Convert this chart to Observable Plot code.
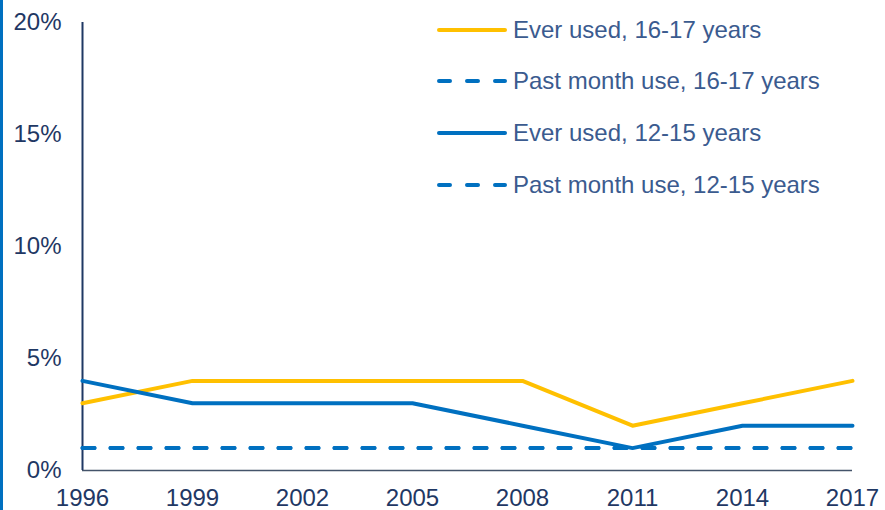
<!DOCTYPE html>
<html>
<head>
<meta charset="utf-8">
<script src="https://cdn.jsdelivr.net/npm/d3@7"></script>
<script src="https://cdn.jsdelivr.net/npm/@observablehq/plot@0.6"></script>
<style>
  html, body { margin: 0; padding: 0; background: #fff; }
  #wrap { position: relative; width: 885px; height: 510px; overflow: hidden; font-family: "Liberation Sans", Arial, sans-serif; }
  #bar { position: absolute; left: 0; top: 0; width: 3px; height: 510px; background: #0070C0; }
  #legend { position: absolute; left: 437px; top: 0; }
  .item { position: absolute; left: 0; height: 30px; display: flex; align-items: center; white-space: nowrap; }
  .item span { margin-left: 6px; font-size: 24px; color: #3B5B8F; }
</style>
</head>
<body>
<div id="wrap"><div id="bar"></div><div id="chart"></div><div id="legend"></div></div>
<script>
const years = [1996, 1999, 2002, 2005, 2008, 2011, 2014, 2017];
const everUsed1617 = [3, 4, 4, 4, 4, 2, 3, 4];
const pastMonth1617 = [1, 1, 1, 1, 1, 1, 1, 1];
const everUsed1215 = [4, 3, 3, 3, 2, 1, 2, 2];
const pastMonth1215 = [1, 1, 1, 1, 1, 1, 1, 1];
const seriesNames = ["Ever used, 16-17 years", "Past month use, 16-17 years", "Ever used, 12-15 years", "Past month use, 12-15 years"];
const yTicks = [0, 5, 10, 15, 20];

const seriesValues = [everUsed1617, pastMonth1617, everUsed1215, pastMonth1215];
const styles = [
  {stroke: "#FFC000", dash: null},
  {stroke: "#0070C0", dash: "12,16"},
  {stroke: "#0070C0", dash: null},
  {stroke: "#0070C0", dash: "12,16"}
];
const rows = seriesNames.flatMap((name, i) => years.map((year, j) => ({series: name, year, value: seriesValues[i][j]})));

const lineMarks = seriesNames.map((name, i) => Plot.line(rows.filter(d => d.series === name), {
  x: "year", y: "value",
  stroke: styles[i].stroke, strokeWidth: 4,
  strokeDasharray: styles[i].dash || undefined,
  strokeLinecap: "round", strokeLinejoin: "round"
}));

const chart = Plot.plot({
  width: 885, height: 510,
  marginLeft: 82, marginRight: 33, marginTop: 22, marginBottom: 40,
  style: {fontFamily: "'Liberation Sans', Arial, sans-serif", fontSize: "24px", background: "transparent", overflow: "visible"},
  x: {domain: [1996, 2017]},
  y: {domain: [0, 20]},
  marks: [
    Plot.axisY({ticks: yTicks, tickFormat: d => d + "%", tickSize: 0, tickPadding: 21, color: "#1F3864", label: null, fontSize: 24}),
    Plot.axisX({ticks: years, tickFormat: d => String(d), tickSize: 0, tickPadding: 18, color: "#1F3864", label: null, fontSize: 24}),
    Plot.ruleY([0], {stroke: "#44546A", strokeWidth: 1.5}),
    Plot.ruleX([1996], {stroke: "#1F3864", strokeWidth: 2}),
    ...lineMarks
  ]
});
document.getElementById("chart").appendChild(chart);

const legend = document.getElementById("legend");
const rowY = [30, 81, 133, 185];
seriesNames.forEach((name, i) => {
  const item = document.createElement("div");
  item.className = "item";
  item.style.top = (rowY[i] - 15) + "px";
  const dash = styles[i].dash ? ` stroke-dasharray="11,17"` : "";
  item.innerHTML = `<svg width="70" height="8"><line x1="2" x2="68" y1="4" y2="4" stroke="${styles[i].stroke}" stroke-width="4" stroke-linecap="round"${dash}/></svg><span>${name}</span>`;
  legend.appendChild(item);
});
</script>
</body>
</html>
